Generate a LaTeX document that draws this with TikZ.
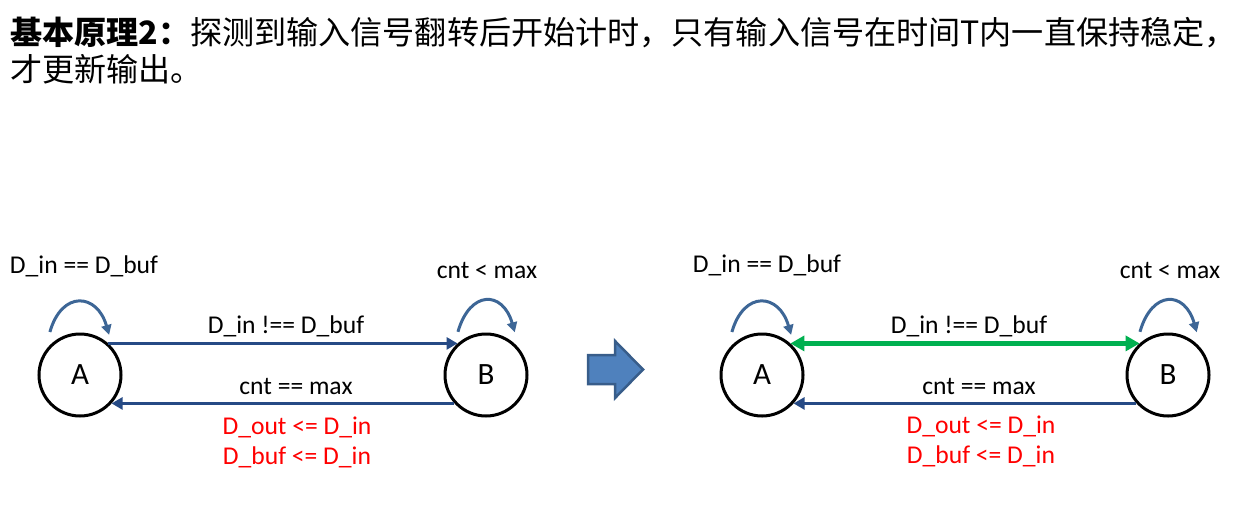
\documentclass[tikz,border=0pt]{standalone}
\usepackage{fontspec}
\setmainfont{Carlito}
\newfontfamily\cjk{Noto Sans CJK SC}
\usetikzlibrary{arrows.meta}
\definecolor{dblue}{HTML}{264A85}
\definecolor{lblue}{HTML}{3D6696}
\definecolor{bafill}{HTML}{4F81BD}
\definecolor{baedge}{HTML}{385D8A}
\definecolor{gr}{HTML}{00B050}
\definecolor{rd}{HTML}{FF0000}
\tikzset{
  state/.style={circle,draw=black,line width=3pt,minimum size=82pt,inner sep=0pt,font=\fontsize{31}{34}\selectfont},
  lbl/.style={font=\fontsize{25.6}{28}\selectfont,inner sep=0pt},
  rlbl/.style={lbl,text=rd},
  tr/.style={draw=dblue,line width=3.2pt,-{Triangle[length=11pt,width=12pt]}},
  gtr/.style={draw=gr,line width=4.2pt,{Triangle[length=14pt,width=15pt]}-{Triangle[length=14pt,width=15pt]}},
  selfloop/.style={draw=lblue,line width=3pt,-{Triangle[length=10pt,width=10pt]}},
}
\begin{document}
\begin{tikzpicture}[x=1pt,y=1pt]
\useasboundingbox (0,0) rectangle (1252,-507);
% title
\node[anchor=base west,inner sep=0pt,font=\fontsize{32.1}{36}\selectfont] (t1) at (10,-44)
  {\cjk{\bfseries 基本原理2：}探测到输入信号翻转后开始计时，只有输入信号在时间T内一直保持稳定，};
\node[anchor=base west,inner sep=0pt,font=\fontsize{32.1}{36}\selectfont] (t2) at (10,-81)
  {\cjk 才更新输出。};
% left diagram
\node[state] (A1) at (80,-375) {A};
\node[state] (B1) at (486,-375) {B};
\draw[tr] (A1.48) -- (B1.132);
\draw[tr] (B1.-138) -- (A1.-42);
\draw[selfloop] ([shift={(125:10)}]A1.125) .. controls +(12,42) and +(-12,42) .. ([shift={(54:7)}]A1.54);
\draw[selfloop] ([shift={(123:9)}]B1.123) .. controls +(12,42) and +(-12,42) .. ([shift={(56:9)}]B1.56);
\node[lbl] (l1) at (84,-266) {D\_in == D\_buf};
\node[lbl] (l2) at (487,-270) {cnt < max};
\node[lbl] (l3) at (286,-326) {D\_in !== D\_buf};
\node[lbl] (l4) at (296,-386) {cnt == max};
\node[rlbl] (l5) at (297,-427) {D\_out <= D\_in};
\node[rlbl] (l6) at (297,-457) {D\_buf <= D\_in};
% block arrow
\filldraw[fill=bafill,draw=baedge,line width=2.5pt,line join=miter]
  (588,-355) -- (615,-355) -- (615,-341) -- (643,-369.5) -- (615,-398) -- (615,-384) -- (588,-384) -- cycle;
% right diagram
\node[state] (A2) at (762,-375) {A};
\node[state] (B2) at (1168,-375) {B};
\draw[gtr] (A2.48) -- (B2.132);
\draw[tr] (B2.-138) -- (A2.-42);
\draw[selfloop] ([shift={(125:10)}]A2.125) .. controls +(12,42) and +(-12,42) .. ([shift={(54:7)}]A2.54);
\draw[selfloop] ([shift={(123:9)}]B2.123) .. controls +(12,42) and +(-12,42) .. ([shift={(56:9)}]B2.56);
\node[lbl] (r1) at (767,-265) {D\_in == D\_buf};
\node[lbl] (r2) at (1170,-270) {cnt < max};
\node[lbl] (r3) at (969,-326) {D\_in !== D\_buf};
\node[lbl] (r4) at (979,-386) {cnt == max};
\node[rlbl] (r5) at (981,-426) {D\_out <= D\_in};
\node[rlbl] (r6) at (981,-456) {D\_buf <= D\_in};
\end{tikzpicture}
\end{document}
